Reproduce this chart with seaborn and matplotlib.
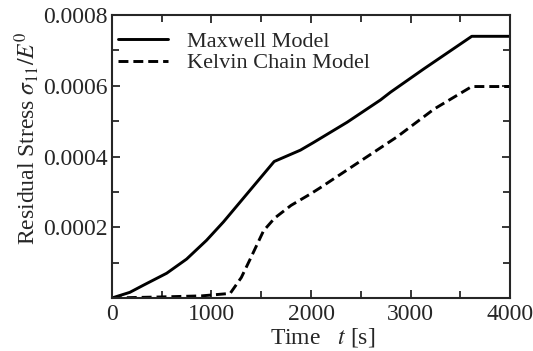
import numpy as np
import pandas as pd
import matplotlib
matplotlib.use("Agg")
import matplotlib.pyplot as plt
import seaborn as sns
from matplotlib.ticker import MultipleLocator, FixedLocator

maxwell_t = [0, 180, 315, 550, 750, 950, 1120, 1290, 1630, 1893, 2027, 2363, 2698,
             2799, 3134, 3615, 4000]
maxwell_s = [0, 0.000016, 0.000036, 0.000070, 0.000110, 0.000163, 0.000215, 0.000272,
             0.000386, 0.000418, 0.000440, 0.000497, 0.000560, 0.000582, 0.000648,
             0.000740, 0.000740]
kelvin_t = [0, 500, 900, 1188, 1300, 1389, 1523, 1635, 1800, 1993, 2094, 2866, 3235,
            3615, 4000]
kelvin_s = [0, 0.000003, 0.000006, 0.000013, 0.000058, 0.000110, 0.000190, 0.000226,
            0.000262, 0.000294, 0.000312, 0.000456, 0.000534, 0.000598, 0.000598]
labels = ["Maxwell Model", "Kelvin Chain Model"]
xticks = [0, 1000, 2000, 3000, 4000]
yticks = [0.0002, 0.0004, 0.0006, 0.0008]

df = pd.concat([
    pd.DataFrame({"t": maxwell_t, "s": maxwell_s, "model": labels[0]}),
    pd.DataFrame({"t": kelvin_t, "s": kelvin_s, "model": labels[1]}),
])

sns.set_style("ticks")
plt.rcParams["font.family"] = ["Liberation Serif", "DejaVu Serif"]
plt.rcParams["mathtext.fontset"] = "stix"

fig = plt.figure(figsize=(5.33, 3.51), dpi=100)
ax = fig.add_axes([0.210, 0.151, 0.747, 0.806])
sns.lineplot(data=df, x="t", y="s", style="model", color="black", linewidth=2.1,
             dashes={labels[0]: "", labels[1]: (3.4, 1.7)}, ax=ax, sort=False)

ax.set_xlim(0, 4000)
ax.set_ylim(0, 0.0008)
ax.xaxis.set_major_locator(FixedLocator(xticks))
ax.yaxis.set_major_locator(FixedLocator(yticks))
ax.xaxis.set_minor_locator(MultipleLocator(500))
ax.yaxis.set_minor_locator(MultipleLocator(0.0001))
ax.set_xticklabels([str(v) for v in xticks])
ax.set_yticklabels([f"{v:.4f}" for v in yticks])
ax.tick_params(which="both", direction="in", top=True, right=True, width=1.3,
               labelsize=17, pad=3)
ax.tick_params(axis="x", pad=4)
ax.tick_params(which="major", length=6)
ax.tick_params(which="minor", length=5)
for sp in ax.spines.values():
    sp.set_linewidth(1.5)

ax.set_xlabel(r"Time   $t$ [s]", fontsize=17)
ax.set_ylabel(r"Residual Stress $\sigma_{11}/E^{\mathit{0}}$", fontsize=17)
ax.xaxis.set_label_coords(0.528, -0.10)
ax.yaxis.set_label_coords(-0.177, 0.565)

leg = ax.legend(loc="upper left", bbox_to_anchor=(0.004, 0.959), frameon=False,
                fontsize=16, handlelength=2.25, handletextpad=0.85,
                borderaxespad=0, borderpad=0.2, labelspacing=0.05)

fig.savefig("out.png", dpi=100)
